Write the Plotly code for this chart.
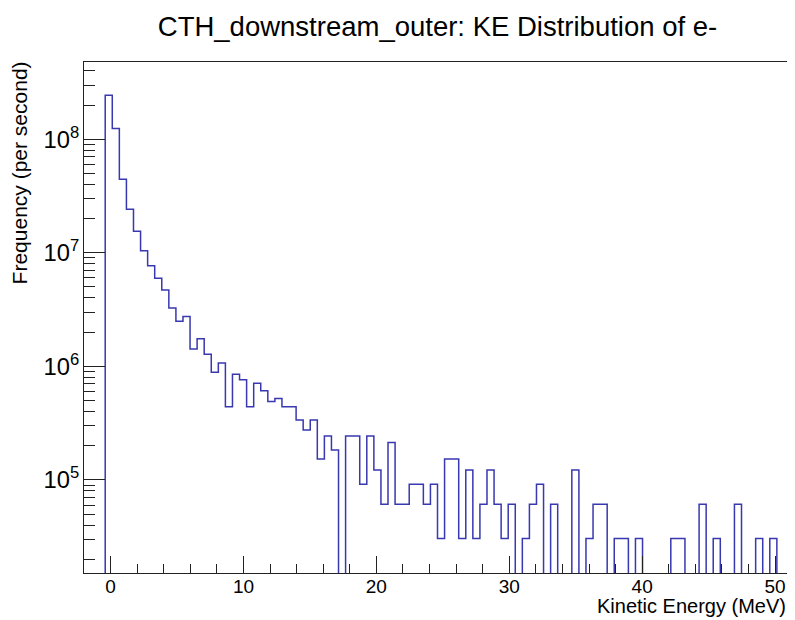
import numpy as np
import plotly.graph_objects as go

# histogram binning (100 bins)
x_min = -2.0
x_max = 51.2
n_bins = 100

# bin contents (per second); 0 = empty bin
freq = [
    0, 0, 0, 2.44e8, 1.24e8, 4.44e7, 2.42e7, 1.55e7, 1.04e7, 7.7e6,
    5.98e6, 4.7e6, 3.26e6, 2.5e6, 2.75e6, 1.42e6, 1.75e6, 1.28e6, 8.85e5, 1.07e6,
    4.4e5, 8.5e5, 7.6e5, 4.4e5, 7.1e5, 6.1e5, 4.9e5, 5.2e5, 4.4e5, 4.4e5,
    3.36e5, 2.75e5, 3.36e5, 1.53e5, 2.44e5, 1.83e5, 0, 2.44e5, 2.44e5, 9.15e4,
    2.44e5, 1.22e5, 6.1e4, 2.135e5, 6.1e4, 6.1e4, 9.15e4, 9.15e4, 6.1e4, 9.15e4,
    3.05e4, 1.525e5, 1.525e5, 3.05e4, 1.22e5, 3.05e4, 6.1e4, 1.22e5, 6.1e4, 3.05e4,
    6.1e4, 0, 3.05e4, 6.1e4, 9.15e4, 0, 6.1e4, 0, 0, 1.22e5,
    0, 3.05e4, 6.1e4, 6.1e4, 0, 3.05e4, 3.05e4, 0, 3.05e4, 0,
    0, 0, 0, 3.05e4, 3.05e4, 0, 0, 6.1e4, 0, 3.05e4,
    0, 0, 6.1e4, 0, 0, 3.05e4, 0, 3.05e4, 0, 0,
]

edges = np.linspace(x_min, x_max, n_bins + 1)
# empty bins sit below the frame on a log axis (like ROOT)
floor = 1e3
y_step = [v if v > 0 else floor for v in freq]
y_step = y_step + [y_step[-1]]

line_col = '#3838b0'
axis_col = '#222222'
fnt = "Liberation Sans, Arial, Helvetica, sans-serif"

fig = go.Figure(go.Scatter(
    x = edges, y = y_step,
    mode = 'lines',
    line = {'shape': 'hv', 'color': line_col, 'width': 1.5},
    hoverinfo = 'skip',
    showlegend = False))

# page body adds an 8px offset, so the figure is 787x612
fig.update_layout(
    width = 787, height = 612,
    margin = {'l': 76, 'r': 4, 't': 54, 'b': 47, 'autoexpand': False},
    paper_bgcolor = 'white', plot_bgcolor = 'white',
    font = {'family': fnt, 'color': 'black', 'size': 19},
    title = {'text': "CTH_downstream_outer: KE Distribution of e-",
             'x': 0.5, 'xref': 'paper', 'xanchor': 'center',
             'y': 0.97, 'yanchor': 'middle',
             'font': {'size': 27.5, 'family': fnt}},
)

fig.update_xaxes(
    range = [x_min, x_max],
    showgrid = False, zeroline = False,
    showline = True, linecolor = axis_col, linewidth = 1, mirror = True,
    ticks = 'inside', ticklen = 17, tickcolor = axis_col, tickwidth = 1,
    tick0 = 0, dtick = 10, ticklabelstandoff = -4,
    minor = {'ticks': 'inside', 'ticklen': 9, 'dtick': 2, 'tickcolor': axis_col, 'showgrid': False},
    tickfont = {'size': 19},
)

fig.update_yaxes(
    type = 'log', range = [4.18, 8.68],
    showgrid = False, zeroline = False,
    showline = True, linecolor = axis_col, linewidth = 1, mirror = True,
    ticks = 'inside', ticklen = 21, tickcolor = axis_col, tickwidth = 1,
    dtick = 1, exponentformat = 'power',
    minor = {'ticks': 'inside', 'ticklen': 11, 'tickcolor': axis_col, 'showgrid': False},
    tickfont = {'size': 19},
)

fig.add_annotation(text = "Kinetic Energy (MeV)", xref = 'paper', yref = 'paper',
                   x = 0.996, y = -0.065, xanchor = 'right', yanchor = 'middle',
                   showarrow = False, font = {'size': 20})
fig.add_annotation(text = "Frequency (per second)", xref = 'paper', yref = 'paper',
                   x = -0.092, y = 1.006, xanchor = 'center', yanchor = 'top', textangle = -90,
                   showarrow = False, font = {'size': 21})

fig.write_html("out.html")
